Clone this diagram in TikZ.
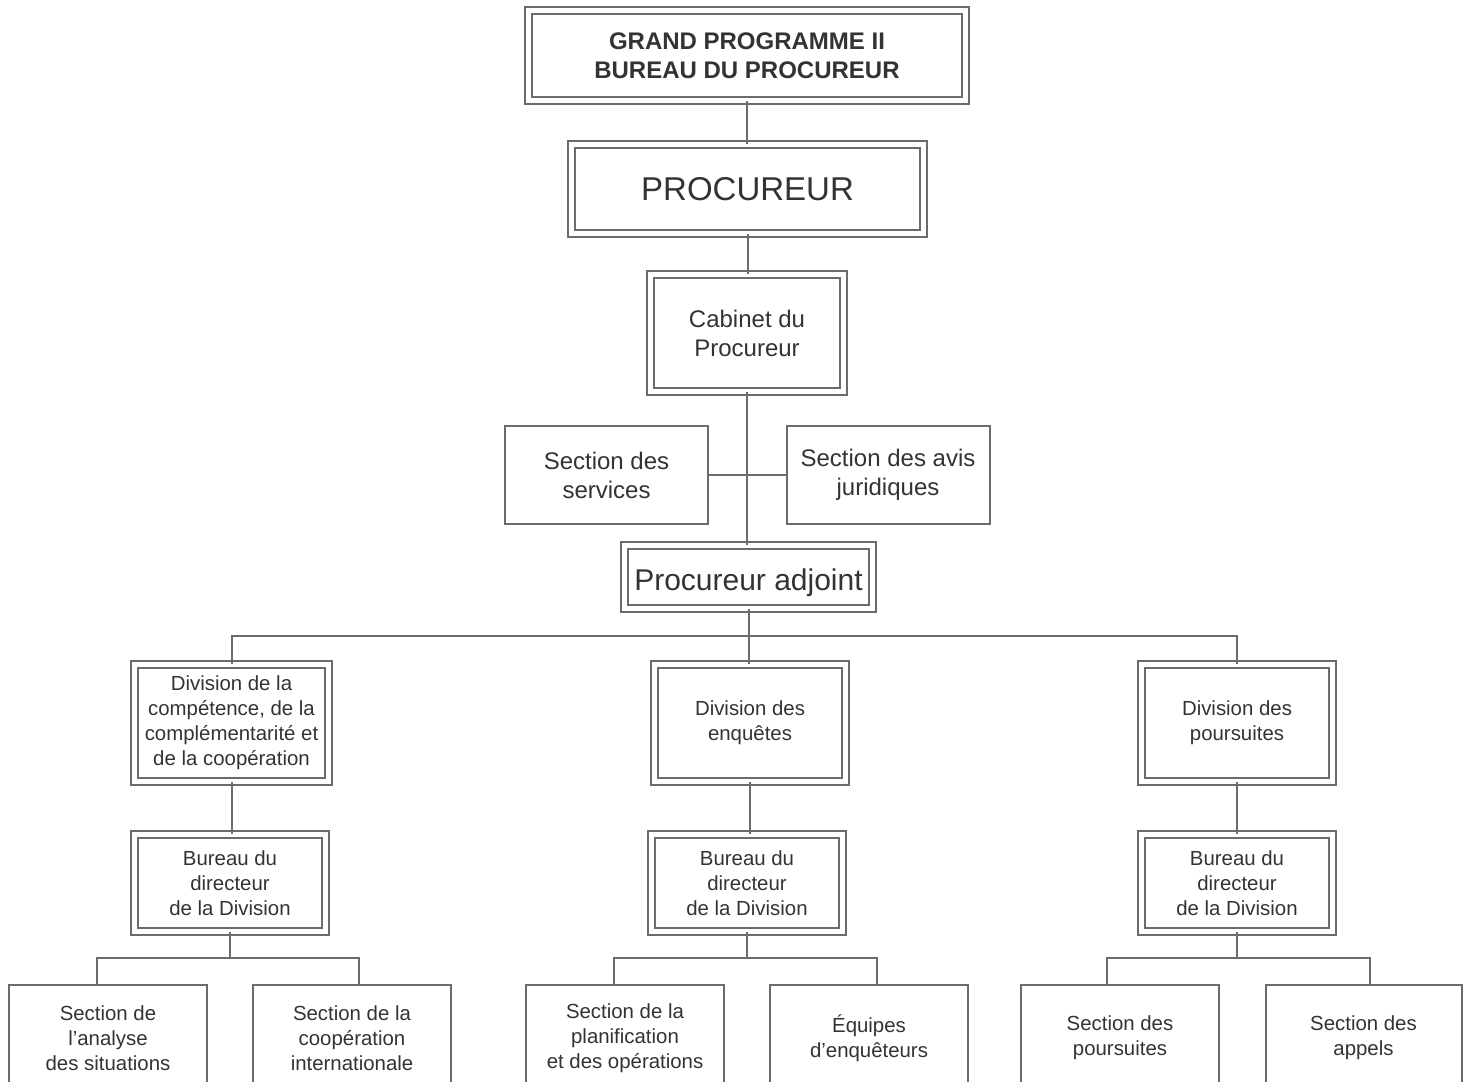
\documentclass[tikz,border=0pt]{standalone}
\usepackage{fontspec}
\setmainfont{Liberation Sans}
\usetikzlibrary{calc}
\definecolor{lncol}{gray}{0.42}
\definecolor{txtcol}{gray}{0.2}

\begin{document}
\begin{tikzpicture}[x=0.5pt, y=-0.5pt,
	dbox/.style={draw=lncol, double, double distance=2.6pt, line width=0.8pt, fill=white, align=center, text=txtcol, inner sep=0pt},
	sbox/.style={draw=lncol, line width=1pt, fill=white, align=center, text=txtcol, inner sep=0pt},
	link/.style={draw=lncol, line width=1pt}]
	\def\fSmall{\fontsize{10.2}{12.5}\selectfont}
	\def\fMid{\fontsize{12}{14.5}\selectfont}

	\useasboundingbox (0,0) rectangle (1470,1081);
	\clip (0,0) rectangle (1470,1081);
	\fill[white] (0,0) rectangle (1470,1081);

	\begin{scope}
		\node[dbox, minimum width=218.5pt, minimum height=45pt, font=\bfseries\fMid] (grand) at (747,55.5) {GRAND PROGRAMME II\\BUREAU DU PROCUREUR};
		\node[dbox, minimum width=176pt, minimum height=44.5pt, font=\fontsize{16.5}{19}\selectfont] (procureur) at (747.5,189) {PROCUREUR};
		\node[dbox, minimum width=96.5pt, minimum height=58.5pt, font=\fMid] (cabinet) at (747,333) {Cabinet du\\Procureur};
		\node[sbox, minimum width=101.5pt, minimum height=49pt, font=\fMid] (services) at (606.5,475) {Section des\\services};
		\node[sbox, minimum width=101.5pt, minimum height=49pt, font=\fMid] (avis) at (888,475) {Section des avis\\juridiques};
		\node[dbox, minimum width=124pt, minimum height=31.5pt, text height=13pt, text depth=0pt, font=\fontsize{15}{18}\selectfont] (adjoint) at (748.5,577) {Procureur adjoint};
	\end{scope}

	\begin{scope}[every node/.append style={font=\fSmall}]
		\node[dbox, minimum width=97pt, minimum height=58.5pt] (divcomp) at (231.5,723) {Division de la\\compétence, de la\\complémentarité et\\de la coopération};
		\node[dbox, minimum width=95.5pt, minimum height=58.5pt] (divenq) at (750,723) {Division des\\enquêtes};
		\node[dbox, minimum width=95.5pt, minimum height=58.5pt] (divpours) at (1237,723) {Division des\\poursuites};

		\node[dbox, minimum width=95.5pt, minimum height=48.5pt] (bureauL) at (230,883) {Bureau du\\directeur\\de la Division};
		\node[dbox, minimum width=95.5pt, minimum height=48.5pt] (bureauM) at (747,883) {Bureau du\\directeur\\de la Division};
		\node[dbox, minimum width=95.5pt, minimum height=48.5pt] (bureauR) at (1237,883) {Bureau du\\directeur\\de la Division};

		\node[sbox, minimum width=99pt, minimum height=53pt] (secA) at (108,1038) {Section de\\l'analyse\\des situations};
		\node[sbox, minimum width=99pt, minimum height=53pt] (secB) at (352,1038) {Section de la\\coopération\\internationale};
		\node[sbox, minimum width=99pt, minimum height=53pt] (secC) at (625,1038) {Section de la\\planification\\et des opérations};
		\node[sbox, minimum width=99pt, minimum height=53pt] (secD) at (869,1038) {Équipes\\d'enquêteurs};
		\node[sbox, minimum width=99pt, minimum height=53pt] (secE) at (1120,1038) {Section des\\poursuites};
		\node[sbox, minimum width=98pt, minimum height=53pt] (secF) at (1363.5,1038) {Section des\\appels};
	\end{scope}

	\begin{scope}[link]
		\draw (grand.south) -- (grand.south |- procureur.north);
		\draw (procureur.south) -- (procureur.south |- cabinet.north);
		\draw (cabinet.south) -- (cabinet.south |- adjoint.north);
		\draw (services) -- (avis);
		\draw (adjoint.south) -- (adjoint.south |- divenq.north);

		\coordinate (busTop) at (747,636);
		\draw (divcomp.north) |- (busTop) -| (divpours.north);

		\draw (divcomp.south) -- (divcomp.south |- bureauL.north);
		\draw (divenq.south) -- (divenq.south |- bureauM.north);
		\draw (divpours.south) -- (divpours.south |- bureauR.north);

		\coordinate (busL) at (229,958);
		\coordinate (busM) at (747,958);
		\coordinate (busR) at (1237,958);
		\draw (bureauL.south) -- (bureauL.south |- busL);
		\draw (bureauM.south) -- (bureauM.south |- busM);
		\draw (bureauR.south) -- (bureauR.south |- busR);
		\draw ([xshift=-5.5pt]secA.north) |- (busL) -| ([xshift=3.5pt]secB.north);
		\draw ([xshift=-5.5pt]secC.north) |- (busM) -| ([xshift=4pt]secD.north);
		\draw ([xshift=-6.5pt]secE.north) |- (busR) -| ([xshift=3.25pt]secF.north);
	\end{scope}
\end{tikzpicture}
\end{document}
